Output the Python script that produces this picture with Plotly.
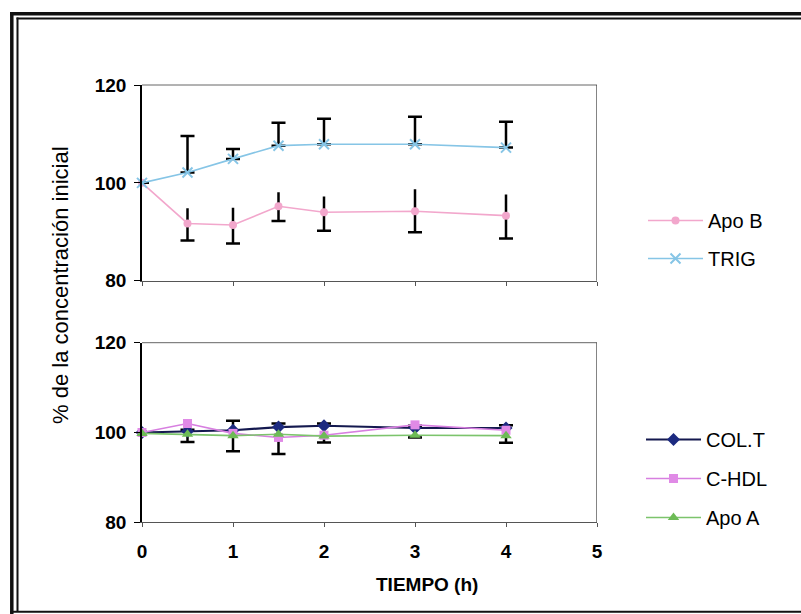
import plotly.graph_objects as go

# Sampling times (h)
tiempo = [0, 0.5, 1, 1.5, 2, 3, 4]

# Upper panel: % of initial concentration
apo_b = [100, 91.7, 91.4, 95.2, 94.0, 94.2, 93.3]
apo_b_err_plus = [0, 3.1, 3.5, 2.9, 3.2, 4.5, 4.3]
apo_b_err_minus = [0, 3.5, 3.8, 3.0, 3.8, 4.3, 4.7]
trig = [100, 102.1, 104.9, 107.6, 107.9, 107.9, 107.2]
trig_err = [0, 7.5, 2.0, 4.7, 5.2, 5.6, 5.3]

# Lower panel: % of initial concentration
col_t = [100, 100.3, 100.5, 101.2, 101.5, 101.0, 101.0]
col_t_err_plus = [0, 0.3, 2.1, 0.8, 0.5, 0.5, 0.6]
col_t_err_minus = [0, 2.4, 4.7, 6.0, 3.7, 2.1, 3.3]
c_hdl = [100, 102.0, 99.8, 98.9, 99.4, 101.7, 100.5]
apo_a = [99.8, 99.6, 99.3, 99.6, 99.2, 99.4, 99.3]

y_ticks = [80, 100, 120]
x_ticks = [0, 1, 2, 3, 4, 5]

W, H = 801, 614
FONT = "Liberation Sans, Arial, sans-serif"


def px(x):
    return x / W


def py(y):
    return 1 - y / H


fig = go.Figure()

zero = [0] * len(tiempo)

# ---- upper panel ----
fig.add_trace(go.Scatter(
    x=tiempo, y=apo_b, name="Apo B", mode="lines+markers",
    line=dict(color="#f2a7cc", width=1.6),
    marker=dict(symbol="circle", size=8, color="#f2a7cc"),
    error_y=dict(type="data", symmetric=False, array=apo_b_err_plus,
                 arrayminus=apo_b_err_minus, color="black", thickness=2.5, width=0),
    xaxis="x", yaxis="y", legend="legend", legendgroup="a", cliponaxis=False,
))
# caps at the lower end of the Apo B bars
fig.add_trace(go.Scatter(
    x=tiempo, y=[v - m for v, m in zip(apo_b, apo_b_err_minus)],
    mode="markers", marker=dict(size=1, opacity=0),
    error_y=dict(type="data", array=zero, color="black", thickness=2.5, width=7),
    showlegend=False, hoverinfo="skip", xaxis="x", yaxis="y",
))
fig.add_trace(go.Scatter(
    x=tiempo, y=trig, name="TRIG", mode="lines+markers",
    line=dict(color="#86c5e6", width=1.6),
    marker=dict(symbol="x-thin", size=10, color="#86c5e6",
                line=dict(color="#86c5e6", width=2)),
    error_y=dict(type="data", symmetric=False, array=trig_err,
                 arrayminus=zero, color="black", thickness=2.5, width=7),
    xaxis="x", yaxis="y", legend="legend", legendgroup="b", cliponaxis=False,
))

# ---- lower panel ----
fig.add_trace(go.Scatter(
    x=tiempo, y=col_t, name="COL.T", mode="lines+markers",
    line=dict(color="#14194f", width=2.2),
    marker=dict(symbol="diamond", size=10, color="#1c2a80"),
    error_y=dict(type="data", symmetric=False, array=col_t_err_plus,
                 arrayminus=col_t_err_minus, color="black", thickness=2.5, width=7),
    xaxis="x2", yaxis="y2", legend="legend2", legendgroup="c", cliponaxis=False,
))
fig.add_trace(go.Scatter(
    x=tiempo, y=c_hdl, name="C-HDL", mode="lines+markers",
    line=dict(color="#d77fe0", width=1.6),
    marker=dict(symbol="square", size=9, color="#e08ae6"),
    xaxis="x2", yaxis="y2", legend="legend2", legendgroup="d", cliponaxis=False,
))
fig.add_trace(go.Scatter(
    x=tiempo, y=apo_a, name="Apo A", mode="lines+markers",
    line=dict(color="#7cc46c", width=1.6),
    marker=dict(symbol="triangle-up", size=10, color="#6dbb56"),
    xaxis="x2", yaxis="y2", legend="legend2", legendgroup="e", cliponaxis=False,
))

x_dom = [px(142), px(597)]
tickfont = dict(family=FONT, size=19, color="black", weight="bold")

common_x = dict(range=[0, 5], domain=x_dom, tickvals=x_ticks, showgrid=False,
                zeroline=False, showline=True, linecolor="#555", linewidth=1,
                ticks="outside", ticklen=4, tickcolor="#555",
                tickfont=tickfont)
common_y = dict(range=[80, 120], tickvals=y_ticks, showgrid=False, zeroline=False,
                showline=True, linecolor="black", linewidth=1.5, ticks="outside",
                ticklen=6, tickcolor="black", tickfont=tickfont, ticklabelstandoff=4,
                automargin=False)

legend_font = dict(family=FONT, size=20, color="black")

frame = dict(color="#111")
shapes = [
    # top and right borders of each plot area
    dict(type="line", xref="x", yref="y domain", x0=0, x1=5, y0=1, y1=1,
         line=dict(color="#666", width=1)),
    dict(type="line", xref="x2", yref="y2 domain", x0=0, x1=5, y0=1, y1=1,
         line=dict(color="#666", width=1)),
    dict(type="line", xref="x", yref="y domain", x0=5, x1=5, y0=0, y1=1,
         line=dict(color="#333", width=1.2)),
    dict(type="line", xref="x2", yref="y2 domain", x0=5, x1=5, y0=0, y1=1,
         line=dict(color="#333", width=1.2)),
    # double frame around the chart
    dict(type="line", xref="paper", yref="paper", x0=px(11.8), x1=px(11.8),
         y0=py(12), y1=py(614), line=dict(width=3.5, **frame)),
    dict(type="line", xref="paper", yref="paper", x0=px(17.5), x1=px(17.5),
         y0=py(17.5), y1=py(612), line=dict(width=2, **frame)),
    dict(type="line", xref="paper", yref="paper", x0=px(10), x1=px(801),
         y0=py(13.8), y1=py(13.8), line=dict(width=3.5, **frame)),
    dict(type="line", xref="paper", yref="paper", x0=px(16.5), x1=px(801),
         y0=py(18.4), y1=py(18.4), line=dict(width=2, **frame)),
    dict(type="line", xref="paper", yref="paper", x0=px(10), x1=px(801),
         y0=py(611.8), y1=py(611.8), line=dict(width=2, **frame)),
]

fig.update_layout(
    width=W, height=H,
    margin=dict(l=0, r=0, t=0, b=0, autoexpand=False),
    paper_bgcolor="white", plot_bgcolor="white",
    showlegend=True,
    xaxis=dict(anchor="y", showticklabels=False, automargin=False, **common_x),
    yaxis=dict(domain=[py(280.7), py(85)], anchor="x", **common_y),
    xaxis2=dict(anchor="y2", showticklabels=True, ticklabelstandoff=8,
                automargin=False, **common_x),
    yaxis2=dict(domain=[py(522.3), py(342.7)], anchor="x2", **common_y),
    legend=dict(x=px(643), y=py(201), xanchor="left", yanchor="top",
                font=legend_font, itemwidth=55, tracegroupgap=9,
                traceorder="grouped", bgcolor="rgba(0,0,0,0)"),
    legend2=dict(x=px(641), y=py(420), xanchor="left", yanchor="top",
                 font=legend_font, itemwidth=55, tracegroupgap=10,
                 traceorder="grouped", bgcolor="rgba(0,0,0,0)"),
    annotations=[
        dict(text="% de la concentración inicial", x=px(60), y=py(285),
             xref="paper", yref="paper", xanchor="center", yanchor="middle",
             showarrow=False, textangle=-90,
             font=dict(family=FONT, size=22, color="black")),
        dict(text="TIEMPO (h)", x=px(427), y=py(584), xref="paper", yref="paper",
             xanchor="center", yanchor="middle", showarrow=False,
             font=dict(family=FONT, size=19, color="black", weight="bold")),
    ],
    shapes=shapes,
)

fig.write_html("out.html")
